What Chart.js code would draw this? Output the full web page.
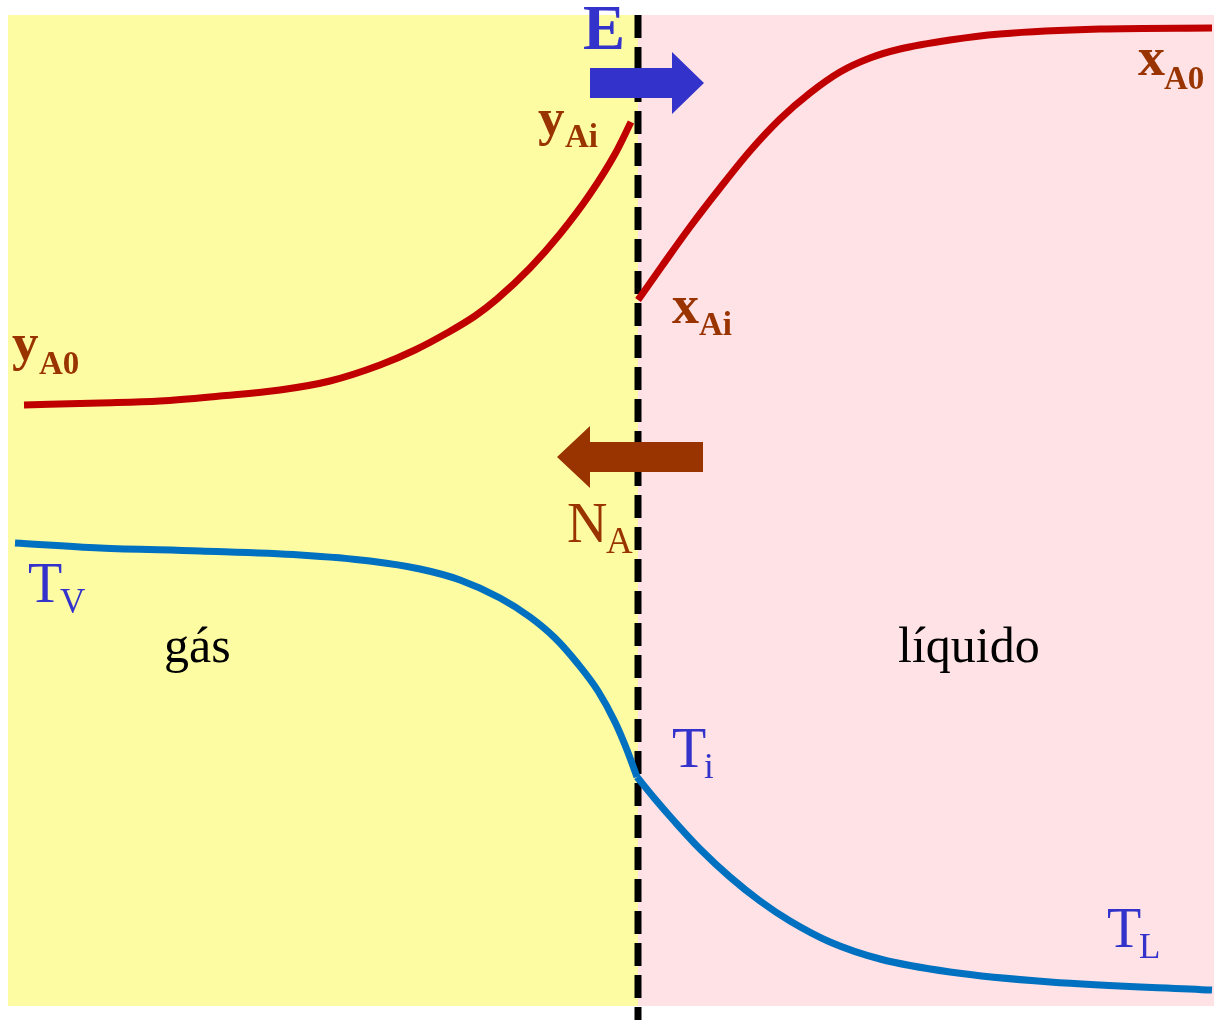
<!DOCTYPE html>
<html>
<head>
<meta charset="utf-8">
<script src="https://cdn.jsdelivr.net/npm/chart.js@4.4.1/dist/chart.umd.min.js"></script>
<style>
  html, body { margin: 0; padding: 0; background: #fff; }
  #wrap { width: 1214px; height: 1020px; }
</style>
</head>
<body>
<div id="wrap"><canvas id="c"></canvas></div>
<script>
// perfil de concentração / temperatura na interface gás–líquido
const C = {
  gas:    '#fefca2',
  liq:    '#fee2e5',
  red:    '#c00000',
  blue:   '#0070c0',
  ink:    '#3333cc',
  brown:  '#993300',
  black:  '#000000',
};

// posições ao longo do eixo (mesma escala do desenho)
const yGasX  = [24, 100, 160, 220, 280, 330, 380, 415, 447, 475, 497, 530, 560, 590, 615, 631];
const yA     = [405, 403, 401, 396, 390, 381, 365, 350, 333, 316, 299, 268, 234, 194, 154, 122];

const xLiqX  = [638, 662, 690, 720, 750, 780, 810, 840, 870, 900, 950, 1000, 1100, 1212];
const xA     = [300, 266, 227, 188, 151, 119, 93, 72, 58, 49, 40, 34, 29, 28];

const tGasX  = [15, 100, 200, 300, 370, 420, 460, 500, 530, 555, 578, 598, 615, 627, 637];
const tV     = [543, 548, 551, 555, 561, 569, 580, 598, 617, 638, 664, 691, 722, 750, 777];

const tLiqX  = [637, 655, 675, 700, 730, 760, 790, 830, 880, 950, 1050, 1212];
const tL     = [777, 799, 822, 849, 877, 901, 921, 942, 959, 972, 982, 990];

const interfaceX = 638;
const regions = { gasFrom: 8, liqTo: 1214, top: 15, bottom: 1006 };

const labels = [
  { main: 'y', sub: 'A0', x: 12,   y: 360, sy: 374, subX: 39,  color: C.brown, bold: true,  size: 53, subSize: 33 },
  { main: 'y', sub: 'Ai', x: 538,  y: 135, sy: 147, subX: 565, color: C.brown, bold: true,  size: 53, subSize: 33 },
  { main: 'x', sub: 'A0', x: 1138, y: 75,  sy: 89,  subX: 1164, color: C.brown, bold: true, size: 54, subSize: 33 },
  { main: 'x', sub: 'Ai', x: 672,  y: 323, sy: 335, subX: 699, color: C.brown, bold: true,  size: 54, subSize: 33 },
  { main: 'N', sub: 'A',  x: 567,  y: 542, sy: 553, subX: 606, color: C.brown, bold: false, size: 56, subSize: 37 },
  { main: 'T', sub: 'V',  x: 28,   y: 602, sy: 613, subX: 60,  color: C.ink,   bold: false, size: 56, subSize: 35 },
  { main: 'T', sub: 'i',  x: 672,  y: 767, sy: 778, subX: 704, color: C.ink,   bold: false, size: 56, subSize: 35 },
  { main: 'T', sub: 'L',  x: 1107, y: 947, sy: 958, subX: 1139, color: C.ink,  bold: false, size: 56, subSize: 35 },
  { main: 'E', sub: '',   x: 583,  y: 49,  sy: 49,  subX: 0,   color: C.ink,   bold: true,  size: 63, subSize: 0 },
  { main: 'gás', sub: '', x: 164,  y: 662, sy: 662, subX: 0,   color: C.black, bold: false, size: 50, subSize: 0 },
  { main: 'líquido', sub: '', x: 898, y: 662, sy: 662, subX: 0, color: C.black, bold: false, size: 50, subSize: 0 },
];

// setas: cauda, base da ponta, ponta, centro, meia-altura do corpo, meia-altura da ponta
const arrows = [
  { tail: 590, base: 672, tip: 704, y: 83,  half: 15, head: 31, color: C.ink },
  { tail: 703, base: 590, tip: 557, y: 457, half: 15, head: 31, color: C.brown },
];

const pts = (xs, ys) => xs.map((x, i) => ({ x, y: ys[i] }));

const serif = "'Liberation Serif', 'Times New Roman', serif";

const backdrop = {
  id: 'backdrop',
  beforeDatasetsDraw(chart) {
    const { ctx, scales: { x, y } } = chart;
    ctx.save();
    const top = y.getPixelForValue(regions.top), bot = y.getPixelForValue(regions.bottom);
    const xg = x.getPixelForValue(regions.gasFrom);
    const xi = x.getPixelForValue(interfaceX);
    ctx.fillStyle = C.gas;
    ctx.fillRect(xg, top, xi - xg, bot - top);
    ctx.fillStyle = C.liq;
    ctx.fillRect(xi, top, x.getPixelForValue(regions.liqTo) - xi, bot - top);
    // interface tracejada
    ctx.strokeStyle = C.black;
    ctx.lineWidth = 7;
    ctx.setLineDash([23, 9]);
    ctx.beginPath();
    ctx.moveTo(xi, top);
    ctx.lineTo(xi, y.getPixelForValue(1020));
    ctx.stroke();
    ctx.restore();
  },
  afterDatasetsDraw(chart) {
    const { ctx, scales: { x, y } } = chart;
    ctx.save();
    arrows.forEach(a => {
      const cy = y.getPixelForValue(a.y);
      ctx.fillStyle = a.color;
      ctx.beginPath();
      ctx.moveTo(x.getPixelForValue(a.tail), cy - a.half);
      ctx.lineTo(x.getPixelForValue(a.base), cy - a.half);
      ctx.lineTo(x.getPixelForValue(a.base), cy - a.head);
      ctx.lineTo(x.getPixelForValue(a.tip), cy);
      ctx.lineTo(x.getPixelForValue(a.base), cy + a.head);
      ctx.lineTo(x.getPixelForValue(a.base), cy + a.half);
      ctx.lineTo(x.getPixelForValue(a.tail), cy + a.half);
      ctx.closePath();
      ctx.fill();
    });
    ctx.textBaseline = 'alphabetic';
    ctx.textAlign = 'left';
    labels.forEach(l => {
      const w = l.bold ? 'bold ' : '';
      ctx.fillStyle = l.color;
      ctx.font = `${w}${l.size}px ${serif}`;
      ctx.fillText(l.main, x.getPixelForValue(l.x), y.getPixelForValue(l.y));
      if (l.sub) {
        ctx.font = `${w}${l.subSize}px ${serif}`;
        ctx.fillText(l.sub, x.getPixelForValue(l.subX), y.getPixelForValue(l.sy));
      }
    });
    ctx.restore();
  }
};

const line = (data, color) => ({
  data, borderColor: color, borderWidth: 7, showLine: true, pointRadius: 0,
  cubicInterpolationMode: 'monotone', fill: false, borderCapStyle: 'butt',
});

new Chart(document.getElementById('c'), {
  type: 'scatter',
  data: {
    datasets: [
      line(pts(yGasX, yA), C.red),
      line(pts(xLiqX, xA), C.red),
      line(pts(tGasX, tV), C.blue),
      line(pts(tLiqX, tL), C.blue),
    ]
  },
  options: {
    responsive: true, maintainAspectRatio: false, animation: false,
    layout: { padding: 0 },
    plugins: { legend: { display: false }, tooltip: { enabled: false } },
    scales: {
      x: { type: 'linear', min: 0, max: 1214, display: false },
      y: { type: 'linear', min: 0, max: 1020, reverse: true, display: false },
    },
    events: [],
  },
  plugins: [backdrop],
});
</script>
</body>
</html>
